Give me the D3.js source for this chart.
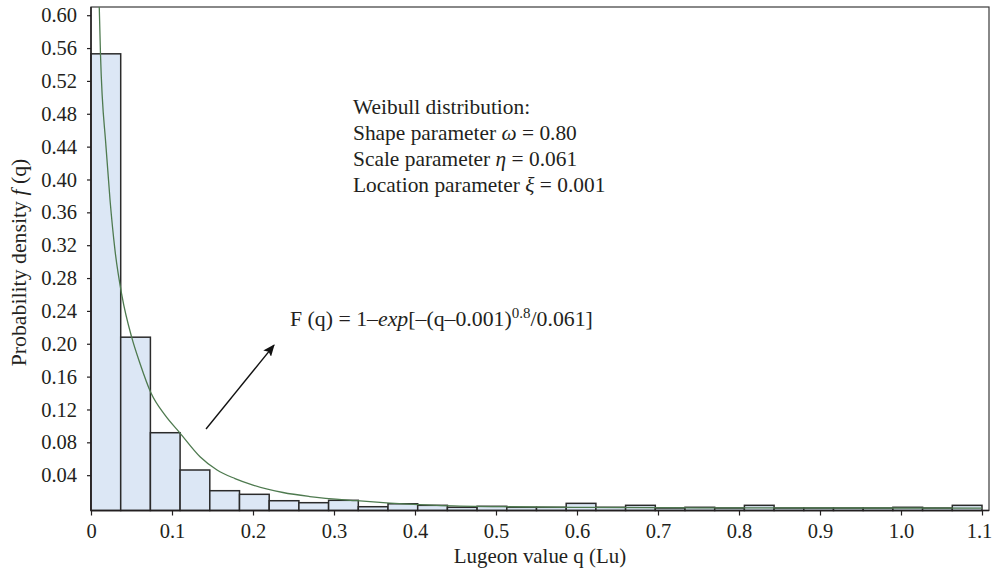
<!DOCTYPE html>
<html>
<head>
<meta charset="utf-8">
<script src="https://cdn.jsdelivr.net/npm/d3@7"></script>
<style>
  html, body { margin: 0; padding: 0; background: #fff; }
  svg { display: block; font-family: "Liberation Serif", "Times New Roman", serif; }
</style>
</head>
<body>
<svg id="chart" width="993" height="571"></svg>
<script>
// ---- data ----
const binWidth = 1.1 / 30;
const binStarts = d3.range(30).map(i => i * binWidth);
const binValues = [0.553, 0.208, 0.0917, 0.0463, 0.0211, 0.0167, 0.0089, 0.0065, 0.0094, 0.0016,
                   0.0052, 0.0033, 0.0009, 0.0021, 0.0009, 0.0009, 0.0057, 0.0009, 0.0033, 0,
                   0.0009, 0, 0.0033, 0, 0, 0, 0, 0.0009, 0, 0.0033];
const curveQ = [0.0092, 0.0102, 0.0117, 0.0185, 0.0235, 0.0296, 0.0383, 0.0502, 0.0605, 0.0741,
                0.0914, 0.1099, 0.1346, 0.1556, 0.1778, 0.200, 0.237, 0.270, 0.328, 0.369,
                0.427, 0.509, 0.616, 0.752, 1.10];
const curveF = [0.66, 0.610, 0.553, 0.440, 0.375, 0.314, 0.258, 0.208, 0.176, 0.140,
                0.113, 0.0913, 0.0625, 0.0463, 0.0359, 0.0280, 0.0189, 0.0140, 0.0089, 0.0061,
                0.0033, 0.0016, 0.0007, 0.0002, 0.0];
const xTicks = [0, 0.1, 0.2, 0.3, 0.4, 0.5, 0.6, 0.7, 0.8, 0.9, 1.0, 1.1];
const xTickLabels = ["0", "0.1", "0.2", "0.3", "0.4", "0.5", "0.6", "0.7", "0.8", "0.9", "1.0", "1.1"];
const yTicks = [0.04, 0.08, 0.12, 0.16, 0.20, 0.24, 0.28, 0.32, 0.36, 0.40, 0.44, 0.48, 0.52, 0.56, 0.60];
const yTickLabels = ["0.04", "0.08", "0.12", "0.16", "0.20", "0.24", "0.28", "0.32", "0.36", "0.40", "0.44", "0.48", "0.52", "0.56", "0.60"];
const infoLines = [
  [["Weibull distribution:", false]],
  [["Shape parameter ", false], ["ω", true], [" = 0.80", false]],
  [["Scale parameter ", false], ["η", true], [" = 0.061", false]],
  [["Location parameter ", false], ["ξ", true], [" = 0.001", false]]
];
const infoAnchor = { q: 0.3235, f: 0.4795 };
const formulaAnchor = { q: 0.2457, f: 0.2216 };
const arrowFrom = { q: 0.142, f: 0.0962 };
const arrowTo = { q: 0.226, f: 0.1984 };

// ---- layout ----
const svg = d3.select("#chart");
const mLeft = 91, mRight = 982, mTop = 7, mBottom = 510.5, frameRight = 989;
const x = d3.scaleLinear().domain([0, 1.1]).range([mLeft, mRight]);
const y = d3.scaleLinear().domain([-0.003, 0.61]).range([mBottom, mTop]);
const ink = "#231f20";

const defs = svg.append("defs");
defs.append("clipPath").attr("id", "plotclip")
  .append("rect").attr("x", mLeft).attr("y", mTop).attr("width", frameRight - mLeft).attr("height", mBottom - mTop);
defs.append("marker")
  .attr("id", "arrowhead").attr("viewBox", "0 0 12 10").attr("refX", 11).attr("refY", 5)
  .attr("markerWidth", 12).attr("markerHeight", 10).attr("markerUnits", "userSpaceOnUse")
  .attr("orient", "auto")
  .append("path").attr("d", "M0,0 L12,5 L0,10 L2.5,5 Z").attr("fill", "#111");

// frame
svg.append("rect").attr("x", mLeft).attr("y", mTop).attr("width", frameRight - mLeft).attr("height", mBottom - mTop)
  .attr("fill", "none").attr("stroke", "#3a3a3a").attr("stroke-width", 1.2);

// bars
svg.append("g").selectAll("rect").data(binValues).join("rect")
  .attr("x", (d, i) => x(binStarts[i]))
  .attr("width", (d, i) => x(binStarts[i] + binWidth) - x(binStarts[i]))
  .attr("y", d => Math.min(y(d), mBottom))
  .attr("height", d => Math.max(0, mBottom - y(d)))
  .attr("fill", "#dce7f5").attr("stroke", "#2b2b2b").attr("stroke-width", 1.5);

// curve
const pts = curveQ.map((q, i) => [q, curveF[i]]);
svg.append("path").datum(pts)
  .attr("clip-path", "url(#plotclip)")
  .attr("d", d3.line().x(d => x(d[0])).y(d => y(d[1])).curve(d3.curveMonotoneX))
  .attr("fill", "none").attr("stroke", "#4e7a4f").attr("stroke-width", 1.3);

// axes
const tickFont = 20.5;
const xAxis = d3.axisBottom(x).tickValues(xTicks).tickFormat((d, i) => xTickLabels[i]).tickSizeInner(5).tickSizeOuter(0).tickPadding(8);
const gx = svg.append("g").attr("transform", `translate(0,${mBottom})`).call(xAxis);
gx.select(".domain").attr("d", `M${mLeft},0H${frameRight}`).attr("stroke", ink).attr("stroke-width", 1.5);
gx.selectAll(".tick line").attr("stroke", ink).attr("stroke-width", 1.2);
gx.selectAll(".tick text").attr("fill", ink).attr("font-size", tickFont).attr("font-family", "Liberation Serif, serif")
  .attr("dx", (d, i) => i === xTicks.length - 1 ? -3 : 0);

const yAxis = d3.axisLeft(y).tickValues(yTicks).tickFormat((d, i) => yTickLabels[i]).tickSizeInner(4).tickSizeOuter(0).tickPadding(10);
const gy = svg.append("g").attr("transform", `translate(${mLeft},0)`).call(yAxis);
gy.select(".domain").attr("d", `M0,${mTop}V${mBottom}`).attr("stroke", ink).attr("stroke-width", 1.5);
gy.selectAll(".tick line").attr("stroke", ink).attr("stroke-width", 1.2);
gy.selectAll(".tick text").attr("fill", ink).attr("font-size", tickFont).attr("font-family", "Liberation Serif, serif");

// axis titles
svg.append("text").attr("x", 540).attr("y", 563).attr("text-anchor", "middle")
  .attr("fill", ink).attr("font-size", 20.9).text("Lugeon value q (Lu)");
const yt = svg.append("text").attr("transform", "translate(26,262.5) rotate(-90)").attr("text-anchor", "middle")
  .attr("fill", ink).attr("font-size", 21.8);
yt.append("tspan").text("Probability density ");
yt.append("tspan").attr("font-style", "italic").text("f");
yt.append("tspan").text(" (q)");

// info block
const info = svg.append("g").attr("fill", ink).attr("font-size", 21.4);
infoLines.forEach((parts, li) => {
  const t = info.append("text").attr("x", x(infoAnchor.q)).attr("y", y(infoAnchor.f) + li * 26);
  parts.forEach(([s, it]) => t.append("tspan").attr("font-style", it ? "italic" : null).text(s));
});

// formula
const ft = svg.append("text").attr("x", x(formulaAnchor.q)).attr("y", y(formulaAnchor.f))
  .attr("fill", ink).attr("font-size", 21.8);
ft.append("tspan").text("F (q) = 1–");
ft.append("tspan").attr("font-style", "italic").text("exp");
ft.append("tspan").text("[–(q–0.001)");
ft.append("tspan").attr("font-size", 15).attr("dy", -8).text("0.8");
ft.append("tspan").attr("dy", 8).text("/0.061]");

// arrow
svg.append("line")
  .attr("x1", x(arrowFrom.q)).attr("y1", y(arrowFrom.f))
  .attr("x2", x(arrowTo.q)).attr("y2", y(arrowTo.f))
  .attr("stroke", "#111").attr("stroke-width", 1.4).attr("marker-end", "url(#arrowhead)");
</script>
</body>
</html>
